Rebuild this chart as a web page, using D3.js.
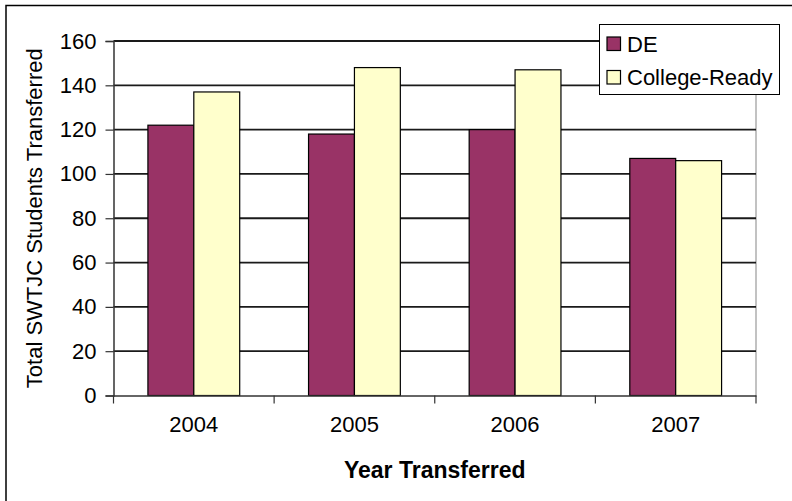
<!DOCTYPE html>
<html><head><meta charset="utf-8">
<script src="https://cdn.jsdelivr.net/npm/d3@7"></script>
<style>body{margin:0;background:#fff}svg{display:block}text{font-family:"Liberation Sans",Arial,sans-serif}</style>
</head><body>
<script>
const years = ["2004","2005","2006","2007"];
const seriesNames = ["DE","College-Ready"];
const deValues = [122,118,120,107];
const crValues = [137,148,147,106];
const yTicks = [0,20,40,60,80,100,120,140,160];
const colors = ["#993366","#FFFFCC"];

const W=792,H=501;
const svg=d3.select("body").append("svg").attr("width",W).attr("height",H);
svg.append("rect").attr("x",6).attr("y",5.5).attr("width",W).attr("height",H).attr("fill","#fff").attr("stroke","#000").attr("stroke-width",1.5);

const L=113.5,R=756,T=41,B=395.5;
const x=d3.scaleBand().domain(years).range([L,R]).paddingInner(0).paddingOuter(0);
const xs=d3.scaleBand().domain(seriesNames).range([0,x.bandwidth()]).paddingInner(0).paddingOuter(0.75);
const y=d3.scaleLinear().domain([0,160]).range([B,T]);

svg.append("line").attr("x1",R).attr("x2",R).attr("y1",T).attr("y2",B).attr("stroke","#999").attr("stroke-width",1.2);
svg.append("g").selectAll("line").data(yTicks.filter(d=>d>0)).join("line")
  .attr("x1",L).attr("x2",R).attr("y1",d=>y(d)).attr("y2",d=>y(d))
  .attr("stroke","#1a1a1a").attr("stroke-width",1.8);

const ya=svg.append("g").attr("transform",`translate(${L},0)`).call(d3.axisLeft(y).tickValues(yTicks).tickSize(8).tickPadding(9));
ya.select(".domain").attr("stroke","#333").attr("stroke-width",1.5);
ya.selectAll(".tick line").attr("stroke","#333").attr("stroke-width",1.2);
ya.selectAll("text").attr("font-size",22).attr("fill","#000").attr("font-family","Liberation Sans, Arial, sans-serif");

const data=years.map((yr,i)=>({yr,vals:[deValues[i],crValues[i]]}));
const g=svg.append("g");
data.forEach(d=>{
  seriesNames.forEach((s,j)=>{
    g.append("rect").attr("x",x(d.yr)+xs(s)).attr("width",xs.bandwidth())
      .attr("y",y(d.vals[j])).attr("height",B-y(d.vals[j]))
      .attr("fill",colors[j]).attr("stroke","#000").attr("stroke-width",1.2);
  });
});

const xa=svg.append("g").attr("transform",`translate(0,${B})`).call(d3.axisBottom(x).tickSize(0).tickPadding(21));
xa.select(".domain").attr("stroke","#333").attr("stroke-width",1.5);
xa.selectAll("text").attr("font-size",22).attr("fill","#000").attr("font-family","Liberation Sans, Arial, sans-serif");
svg.append("g").selectAll("line").data(years.concat(["end"])).join("line")
  .attr("x1",(d,i)=>i<years.length?x(d):R).attr("x2",(d,i)=>i<years.length?x(d):R)
  .attr("y1",B).attr("y2",B+8).attr("stroke","#333").attr("stroke-width",1.2);

svg.append("text").attr("x",(L+R)/2).attr("y",478).attr("text-anchor","middle")
  .attr("font-size",23).attr("font-weight","bold").text("Year Transferred");
svg.append("text").attr("transform",`translate(42,${(T+B)/2}) rotate(-90)`).attr("text-anchor","middle")
  .attr("font-size",22).text("Total SWTJC Students Transferred");

const lg=svg.append("g");
lg.append("rect").attr("x",599.5).attr("y",24.5).attr("width",180).attr("height",70).attr("fill","#fff").attr("stroke","#000").attr("stroke-width",1);
seriesNames.forEach((s,i)=>{
  lg.append("rect").attr("x",607).attr("y",37+i*33.5).attr("width",13.5).attr("height",13.5).attr("fill",colors[i]).attr("stroke","#000").attr("stroke-width",1.2);
  lg.append("text").attr("x",627).attr("y",51.5+i*33.5).attr("font-size",22).text(s);
});
</script>
</body></html>
